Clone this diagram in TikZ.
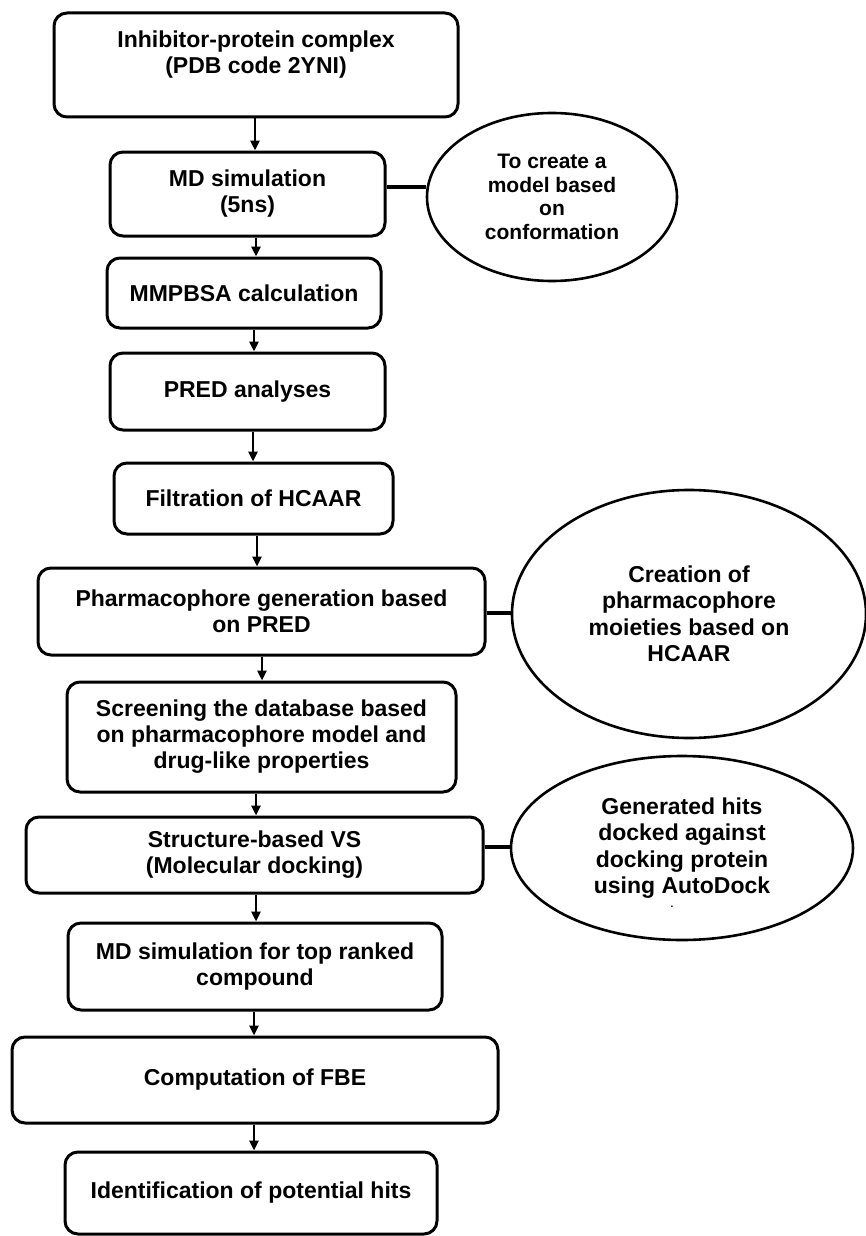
\documentclass[tikz,border=0pt]{standalone}
\usepackage{fontspec}
\setmainfont{Liberation Sans}
\usetikzlibrary{shapes.geometric,arrows.meta}
\tikzset{
  box/.style={draw, rectangle, line width=3pt, rounded corners=13pt, align=center, inner sep=0pt,
    font=\bfseries\fontsize{23}{26}\selectfont},
  oval/.style={draw, ellipse, line width=2.6pt, align=center, inner sep=0pt,
    font=\bfseries\fontsize{23}{26.5}\selectfont},
  arr/.style={line width=2.6pt, -{Triangle[length=10pt,width=9pt]}},
  link/.style={line width=3.2pt},
}
\begin{document}
\begin{tikzpicture}[x=1pt,y=-1pt]
\path[fill=white] (0,0) rectangle (865,1236);
\useasboundingbox (0,0) rectangle (865,1236);

% left column
\node[box, minimum width=404pt, minimum height=104pt] (B1) at (256,65) {Inhibitor-protein complex\\(PDB code 2YNI)\\~};
\node[box, minimum width=275pt, minimum height=84pt] (B2) at (247.5,194) {MD simulation\\(5ns)};
\node[box, minimum width=274pt, minimum height=70pt] (B3) at (244,293) {MMPBSA calculation};
\node[box, minimum width=275pt, minimum height=77pt] (B4) at (247.5,391.5) {PRED analyses};
\node[box, minimum width=279pt, minimum height=71pt] (B5) at (253.5,498.5) {Filtration of HCAAR};
\node[box, minimum width=447pt, minimum height=87pt] (B6) at (261.5,611.5) {Pharmacophore generation based\\on PRED};
\node[box, minimum width=389pt, minimum height=110pt] (B7) at (261.5,737) {Screening the database based\\on pharmacophore model and\\drug-like properties};
\node[box, minimum width=457pt, minimum height=76pt] (B8) at (254.5,855) {Structure-based VS\\(Molecular docking)};
\node[box, minimum width=374pt, minimum height=87pt] (B9) at (255,966.5) {MD simulation for top ranked\\compound};
\node[box, minimum width=486pt, minimum height=86pt] (B10) at (255,1080) {Computation of FBE};
\node[box, minimum width=372pt, minimum height=82pt] (B11) at (251,1193) {Identification of potential hits};

% ellipses
\node[oval, minimum width=250pt, minimum height=168pt, font=\bfseries\fontsize{21}{23.5}\selectfont] (E1) at (552,197) {To create a\\model based\\on\\conformation};
\node[oval, minimum width=354pt, minimum height=248pt] (E2) at (689,614) {Creation of\\pharmacophore\\moieties based on\\HCAAR};
\node[oval, minimum width=342pt, minimum height=184pt] (E3) at (682,848) {Generated hits\\docked against\\docking protein\\using AutoDock};
\node[inner sep=0pt, font=\bfseries\fontsize{10}{10}\selectfont] (dot) at (672,907) {.};

% arrows
\draw[arr] (B1.south -| 255,0) -- (B2.north -| 255,0);
\draw[arr] (B2.south -| 256,0) -- (B3.north -| 256,0);
\draw[arr] (B3.south -| 254,0) -- (B4.north -| 254,0);
\draw[arr] (B4.south -| 253,0) -- (B5.north -| 253,0);
\draw[arr] (B5.south -| 257,0) -- (B6.north -| 257,0);
\draw[arr] (B6.south -| 262,0) -- (B7.north -| 262,0);
\draw[arr] (B7.south -| 256,0) -- (B8.north -| 256,0);
\draw[arr] (B8.south -| 256,0) -- (B9.north -| 256,0);
\draw[arr] (B9.south -| 254,0) -- (B10.north -| 254,0);
\draw[arr] (B10.south -| 254,0) -- (B11.north -| 254,0);

% links to ellipses
\draw[link] (B2.east |- 0,187) -- (E1.west |- 0,187);
\draw[link] (B6.east |- 0,613) -- (E2.west |- 0,613);
\draw[link] (B8.east |- 0,847) -- (E3.west |- 0,847);
\end{tikzpicture}
\end{document}
